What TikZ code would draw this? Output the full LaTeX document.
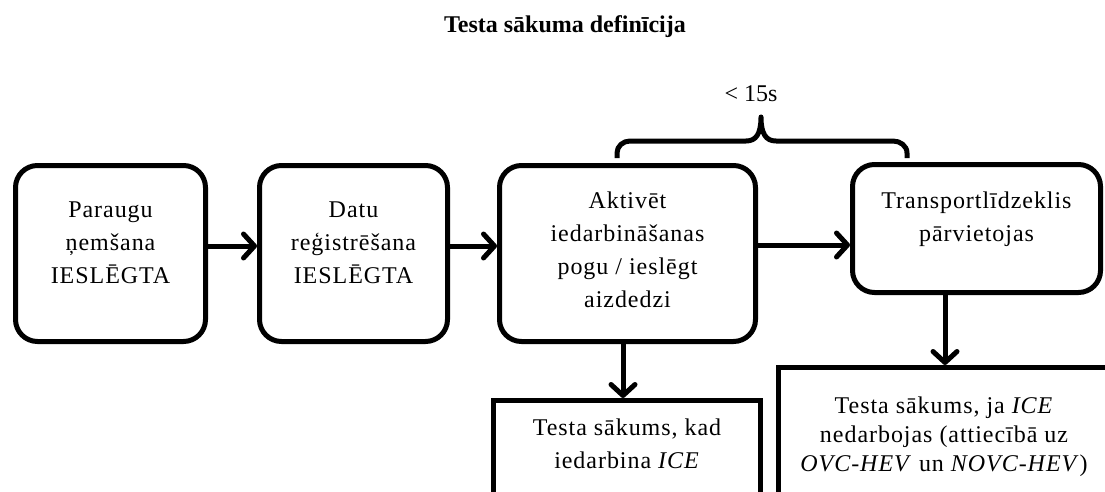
\documentclass[tikz,border=0pt]{standalone}
\usepackage{fontspec}
\setmainfont{Liberation Serif}
\newfontfamily\spacedserif{Liberation Serif}[LetterSpace=4]
\usetikzlibrary{arrows.meta}

\begin{document}
\begin{tikzpicture}[x=1pt,y=-1pt,
  box/.style={draw, line width=5pt, rounded corners=22pt, fill=white, inner sep=0pt},
  plainbox/.style={draw, line width=5pt, fill=white, inner sep=0pt},
  txt/.style={align=center, inner sep=0pt, font=\spacedserif\fontsize{24}{33}\selectfont},
  txtb/.style={align=center, inner sep=0pt, font=\spacedserif\fontsize{24}{29}\selectfont},
  arr/.style={line width=5pt, -{Straight Barb[length=11pt,width=24pt,line cap=round,line join=round]}},
]
\useasboundingbox (0,0) rectangle (1105,492);
\clip (0,0) rectangle (1105,492);

% title
\node[inner sep=0pt, font=\bfseries\fontsize{24}{29}\selectfont] (title) at (565,27) {Testa sākuma definīcija};

% process boxes
\node[box, minimum width=190pt, minimum height=176pt] (b1) at (110.5,253.5) {};
\node[txt] (t1) at (110.5,243) {Paraugu\\ņemšana\\IESLĒGTA};

\node[box, minimum width=188pt, minimum height=176pt] (b2) at (353.5,253.5) {};
\node[txt] (t2) at (353.5,243) {Datu\\reģistrēšana\\IESLĒGTA};

\node[box, minimum width=256pt, minimum height=176pt] (b3) at (627.5,253.5) {};
\node[txt] (t3) at (627.5,250) {Aktivēt\\iedarbināšanas\\pogu / ieslēgt\\aizdedzi};

\node[box, minimum width=248pt, minimum height=128pt] (b4) at (976.5,228.5) {};
\node[txt] (t4) at (976.5,219.5) {Transportlīdzeklis\\pārvietojas};

% result boxes
\node[plainbox, minimum width=267pt, minimum height=119.5pt] (b5) at (627,460.25) {};
\node[txt] (t5) at (627,444) {Testa sākums, kad\\iedarbina \textit{ICE}};

\node[plainbox, minimum width=361.5pt, minimum height=152.5pt] (b6) at (959.25,443.75) {};
\node[txtb] (t6) at (944,436.5) {Testa sākums, ja \textit{ICE}\\nedarbojas (attiecībā uz\\\textit{OVC-HEV} un \textit{NOVC-HEV})};

% connectors
\draw[arr] ([yshift=7.5pt]b1.east) -- ([yshift=7.5pt]b2.west);
\draw[arr] ([yshift=7.5pt]b2.east) -- ([yshift=7.5pt]b3.west);
\draw[arr] ([yshift=8.5pt]b3.east) -- ([yshift=8.5pt]b3.east -| b4.west);
\draw[arr] ([xshift=-4.5pt]b3.south) -- ([xshift=-4.5pt]b3.south |- b5.north);
\draw[arr] ([xshift=-31.5pt]b4.south) -- ([xshift=-31.5pt]b4.south |- b6.north);

% time brace
\draw[line width=5pt, line join=round]
  (617,158) -- (617,153) to[out=90,in=180] (630,141) -- (746,141)
  .. controls (756,141) and (761,134) .. (761,117)
  .. controls (761,134) and (766,141) .. (776,141)
  -- (893,141) to[out=0,in=90] (907,153) -- (907,158);
\node[inner sep=0pt, font=\fontsize{24}{29}\selectfont] (lim) at (751,94) {< 15s};
\end{tikzpicture}
\end{document}
